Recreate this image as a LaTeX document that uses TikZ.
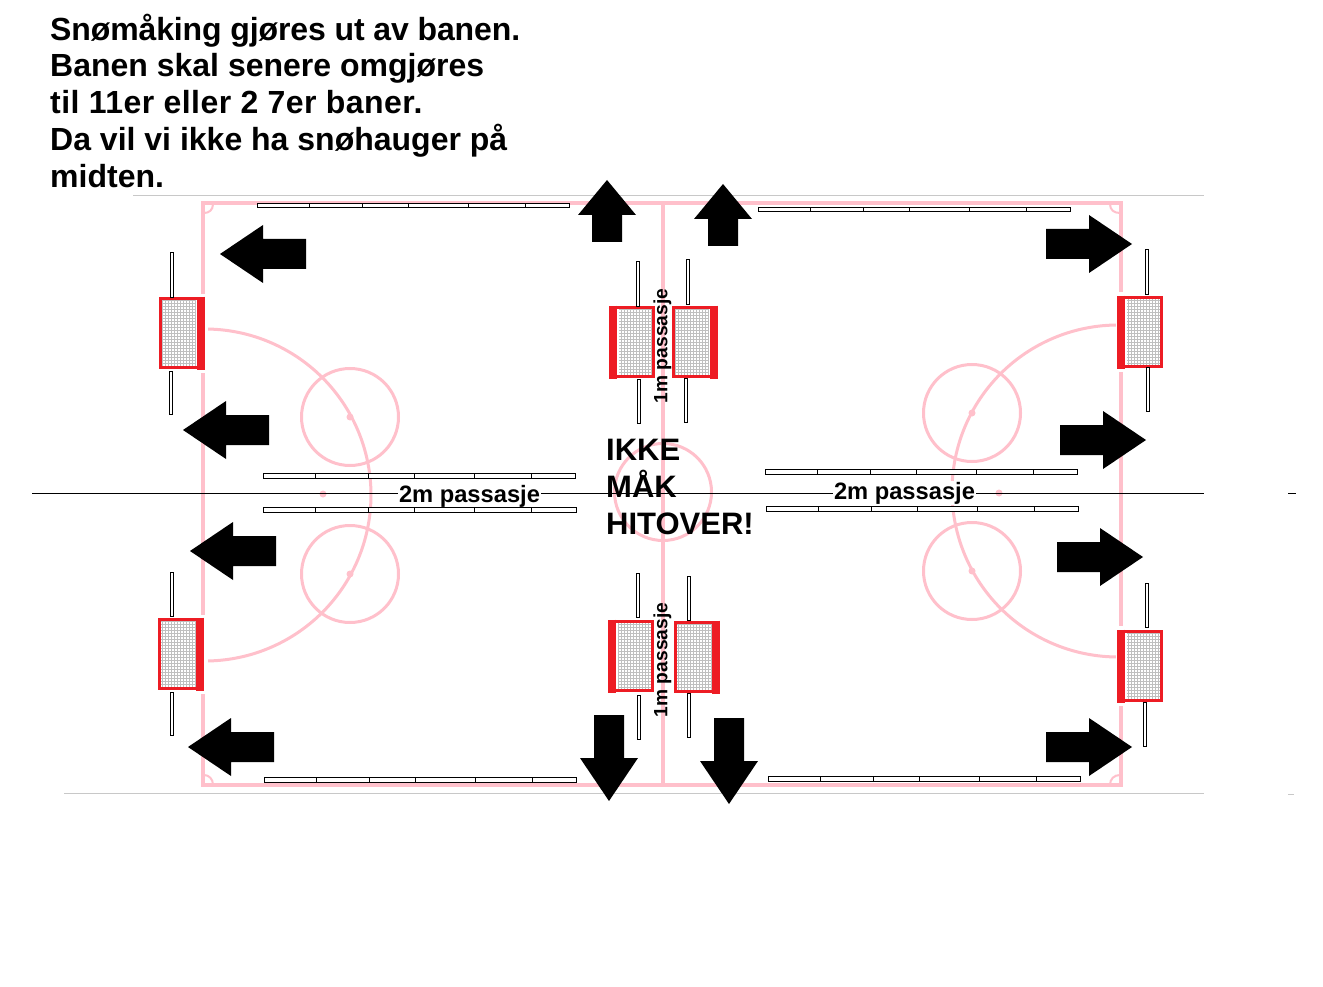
\documentclass[tikz,border=0pt]{standalone}
\usepackage{fontspec}
\setmainfont{Liberation Sans}
\definecolor{rink}{HTML}{FFC0CB}
\definecolor{goalred}{HTML}{ED1C24}
\definecolor{rulegrey}{HTML}{C8C8C8}
\newcommand{\ArrowH}[3]{% tip x, tip y, dir (+1 right, -1 left)
  \fill[black] (#1,#2) -- ({#1-#3*43},{#2-29}) -- ({#1-#3*43},{#2-15}) -- ({#1-#3*86},{#2-15})
    -- ({#1-#3*86},{#2+15}) -- ({#1-#3*43},{#2+15}) -- ({#1-#3*43},{#2+29}) -- cycle;}
\newcommand{\ArrowV}[5]{% tip x, tip y, dir (+1 down, -1 up), head length, total length
  \fill[black] (#1,#2) -- ({#1-29},{#2-#3*#4}) -- ({#1-15},{#2-#3*#4}) -- ({#1-15},{#2-#3*#5})
    -- ({#1+15},{#2-#3*#5}) -- ({#1+15},{#2-#3*#4}) -- ({#1+29},{#2-#3*#4}) -- cycle;}
\newcommand{\GoalBox}[3]{% left x, top y, thick side (0 left, 1 right)
  \fill[white] (#1,#2) rectangle ({#1+46},{#2+72});
  \draw[netline,step=3pt] ({#1+10-#3*7},{#2+3}) grid ({#1+43-#3*6},{#2+69});
  \draw[goalframe] ({#1+1.5},{#2+1.5}) rectangle ({#1+44.5},{#2+70.5});
  \draw[goalbar] ({#1+4+#3*38},{#2-0.5}) -- ({#1+4+#3*38},{#2+73});}
\newcommand{\Post}[4]{% x1, y1, x2, y2
  \draw[postline] (#1,#2) rectangle (#3,#4);}
\newcommand{\Board}[4]{% left x, top y, right x, bottom y
  \draw[postline] (#1,#2) rectangle (#3,#4);
  \foreach \t in {52,105,151,211,268} \draw[black,line width=1pt] ({#1+\t},#2) -- ({#1+\t},#4);}
\tikzset{
  netline/.style={draw=gray!50,line width=.4pt},
  goalframe/.style={draw=goalred,line width=3pt},
  goalbar/.style={draw=goalred,line width=8pt},
  postline/.style={draw=black,fill=white,line width=1pt},
  rinkline/.style={draw=rink,line width=4pt},
  rinkarc/.style={draw=rink,line width=3pt},
  bigtext/.style={font=\fontsize{32}{36.9}\selectfont\bfseries,align=left,inner sep=0pt,anchor=north west},
  paslabel/.style={font=\fontsize{23.7}{27}\selectfont\bfseries,inner sep=1pt,fill=white},
  vlabel/.style={font=\fontsize{19.2}{23}\selectfont\bfseries,inner sep=0pt,rotate=90},
}
\begin{document}
\begin{tikzpicture}[x=1pt,y=-1pt]
\useasboundingbox (0,0) rectangle (1323,987);
\fill[white] (0,0) rectangle (1323,987);
% thin rules
\draw[rulegrey,line width=1pt] (133,196) -- (1204,196);
\draw[rulegrey,line width=1pt] (64,793) -- (1204,793);
\draw[rulegrey,line width=1pt] (1288,794) -- (1294,794);
% rink
\draw[rinkline] (203,203) rectangle (1121,785);
\draw[rinkline] (663,203) -- (663,785);
\foreach \cx/\cy in {350/417,350/574,972/413,972/571,663/492}
  \draw[rinkarc] (\cx,\cy) circle[radius=48.5];
\draw[rinkarc] plot[domain=-90:90,samples=70,smooth] ({205+166*cos(\x)},{495+166*sin(\x)});
\draw[rinkarc] plot[domain=90:270,samples=70,smooth] ({1118+166*cos(\x)},{491+166*sin(\x)});
\foreach \cx/\cy in {350/417,350/574,972/413,972/571,323/494,999/493}
  \fill[rink] (\cx,\cy) circle[radius=3.5];
% corners
\draw[rink,line width=2pt] (213,204) .. controls (213,210) and (209,213) .. (204,213);
\draw[rink,line width=2pt] (1110,204) .. controls (1110,210) and (1114,213) .. (1120,213);
\draw[rink,line width=2pt] (213,785) .. controls (213,779) and (209,775) .. (204,775);
\draw[rink,line width=2pt] (1110,785) .. controls (1110,779) and (1114,775) .. (1120,775);
% gaps beside the outer goals
\fill[white] (200,294) rectangle (208,373);
\fill[white] (200,615) rectangle (208,694);
\fill[white] (1116,292) rectangle (1124,372);
\fill[white] (1116,626) rectangle (1124,706);
% main horizontal line
\draw[black,line width=1pt] (32,493) -- (1204,493);
\draw[black,line width=1pt] (1288,493.5) -- (1296,493.5);
% passage labels sit under the boards
\node[paslabel] (pasl) at (469.5,496) {2m passasje};
\node[paslabel] (pasr) at (904.5,493) {2m passasje};
% boards
\Board{257}{203.5}{569}{208}
\Board{758}{207.5}{1070}{212}
\Board{263}{473.5}{575}{478}
\Board{263}{507.5}{576}{512}
\Board{765}{469.5}{1077}{474}
\Board{766}{506.5}{1078}{511}
\Board{264}{777.5}{576}{782}
\Board{768}{776.5}{1080}{781}
% goals
\GoalBox{159}{297}{1}
\GoalBox{158}{618}{1}
\GoalBox{609}{306}{0}
\GoalBox{672}{306}{1}
\GoalBox{608}{620}{0}
\GoalBox{674}{621}{1}
\GoalBox{1117}{296}{0}
\GoalBox{1117}{630}{0}
% posts
\Post{170}{253}{173}{297}
\Post{169}{371}{172}{414}
\Post{170.5}{572}{173.5}{616}
\Post{170}{692}{173}{735}
\Post{636.5}{262}{639.5}{306}
\Post{637.5}{379}{640.5}{423}
\Post{686.5}{260}{689.5}{304}
\Post{684.5}{378}{687.5}{422}
\Post{636}{573}{639}{617}
\Post{637.5}{695}{640.5}{739}
\Post{687}{576}{690}{620}
\Post{687.5}{693}{690.5}{737}
\Post{1145.5}{250}{1148.5}{294}
\Post{1146.5}{367}{1149.5}{411}
\Post{1145.5}{583}{1148.5}{627}
\Post{1143.5}{702}{1146.5}{746}
% arrows
\ArrowH{220}{254}{-1}
\ArrowH{183}{430}{-1}
\ArrowH{190}{551}{-1}
\ArrowH{188}{747}{-1}
\ArrowH{1132}{244}{1}
\ArrowH{1146}{440}{1}
\ArrowH{1143}{557}{1}
\ArrowH{1132}{747}{1}
\ArrowV{607}{180}{-1}{35}{62}
\ArrowV{723}{184}{-1}{35}{62}
\ArrowV{609}{801}{1}{43}{86}
\ArrowV{729}{804}{1}{43}{86}
% texts
\node[bigtext] (title) at (50,13.5) {{\addfontfeature{LetterSpace=-0.4}Snømåking gjøres ut av banen.}\\Banen skal senere omgjøres\\{\addfontfeature{LetterSpace=1.4}til 11er eller 2 7er baner.}\\Da vil vi ikke ha snøhauger på\\midten.};
\node[bigtext,font=\fontsize{31}{37}\selectfont\bfseries] (warn) at (606,439) {IKKE\\MÅK\\HITOVER!};
\node[vlabel] (vtop) at (662.5,346) {1m passasje};
\node[vlabel] (vbot) at (662.5,660) {1m passasje};
\end{tikzpicture}
\end{document}
